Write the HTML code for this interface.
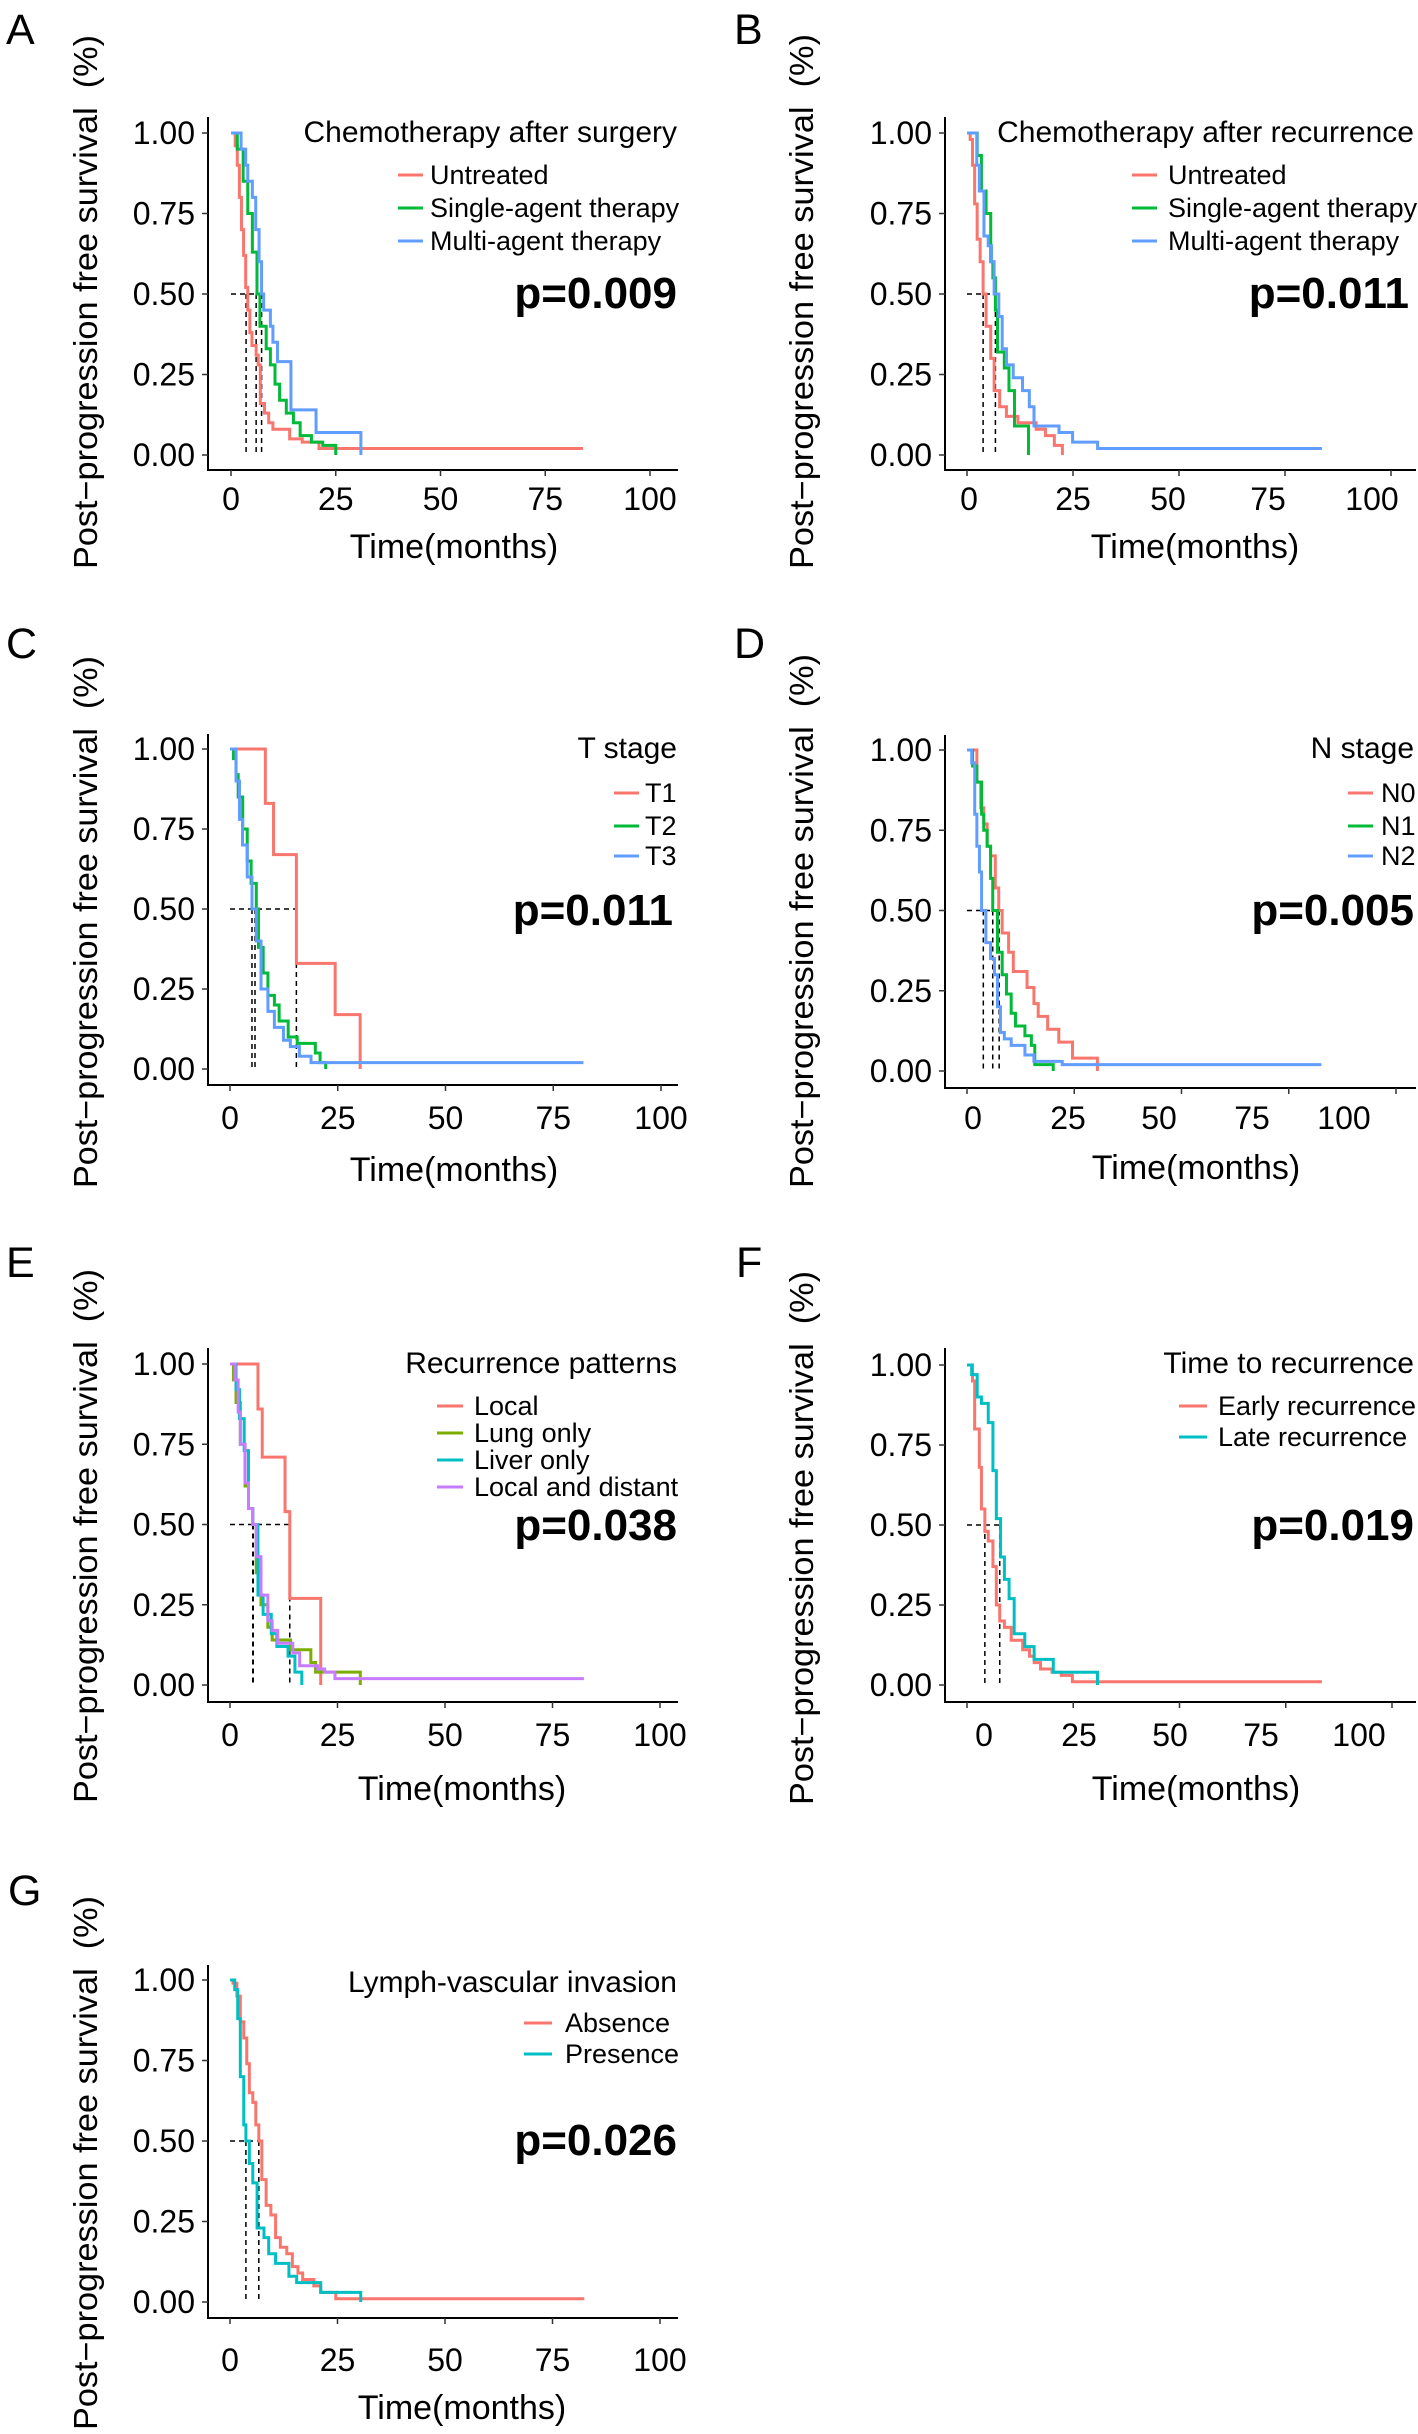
<!DOCTYPE html>
<html><head><meta charset="utf-8"><style>
html,body{margin:0;padding:0;background:#fff}
svg{display:block}
text{font-family:"Liberation Sans",Arial,sans-serif;fill:#000}
</style></head><body>
<svg id="fig" width="1418" height="2434" viewBox="0 0 1418 2434" xmlns="http://www.w3.org/2000/svg"></svg>
<script>
// ---- Data (months, survival probability) ----
const yTickValues=[0,0.25,0.5,0.75,1];
const yTickLabels=["0.00","0.25","0.50","0.75","1.00"];
const xTickValues=[0,25,50,75,100];
const xTickLabels=["0","25","50","75","100"];

// A
const aUntreatedT=[0,1,1.5,2,2.5,3,3.5,4,4.5,5,6,6.5,7,8,9,10,12,14,17,19,21,84];
const aUntreatedS=[1,0.96,0.9,0.8,0.7,0.62,0.52,0.45,0.38,0.34,0.31,0.28,0.16,0.13,0.1,0.08,0.08,0.05,0.04,0.04,0.02,0.02];
const aSingleT=[0,1.5,2.9,4,5.1,6.2,6.9,8.4,9.4,10.5,11.6,13.2,14.9,16.5,19.2,21.9,25];
const aSingleS=[1,0.95,0.85,0.75,0.63,0.5,0.4,0.33,0.28,0.22,0.17,0.13,0.1,0.06,0.04,0.03,0];
const aMultiT=[0,1.9,2.4,3.5,4,5.1,5.9,6.7,7.3,7.8,9.4,10,11.1,14.3,20.3,31];
const aMultiS=[1,1,0.95,0.9,0.85,0.8,0.7,0.6,0.5,0.45,0.4,0.35,0.29,0.14,0.07,0];
const aMedians=[3.6,6,7.3];
// B
const bUntreatedT=[0,0.75,1.3,1.8,2.4,3.1,3.8,4.5,5.6,6.4,7.7,9.3,12,16.3,18.5,20.6,22.5];
const bUntreatedS=[1,0.98,0.9,0.78,0.67,0.6,0.5,0.4,0.3,0.2,0.15,0.12,0.1,0.08,0.06,0.03,0];
const bSingleT=[0,1.7,2.4,3.4,4.5,5.6,6.1,6.7,7.2,8.8,9.9,11.2,14.5];
const bSingleS=[1,1,0.93,0.82,0.75,0.6,0.55,0.45,0.32,0.27,0.2,0.09,0];
const bMultiT=[0,1.2,2.3,2.9,4,5,5.8,6.4,7.5,8.3,9.3,10.9,13.1,14.7,15.8,21.7,24.9,30.8,83.7];
const bMultiS=[1,1,0.9,0.82,0.68,0.65,0.6,0.5,0.43,0.33,0.28,0.24,0.2,0.15,0.09,0.07,0.04,0.02,0.02];
const bMedians=[3.8,6.7];
// C
const cT1T=[0,8.2,10.1,15.4,24.4,30.2];
const cT1S=[1,0.83,0.67,0.33,0.17,0];
const cT2T=[0,0.8,1.4,1.9,2.95,4,4.9,6.1,6.6,7.7,8.8,10.3,11.4,13.5,15.6,19.8,20.9,22.2];
const cT2S=[1,0.97,0.92,0.85,0.75,0.65,0.58,0.5,0.38,0.3,0.23,0.2,0.15,0.1,0.08,0.05,0.02,0];
const cT3T=[0,1.4,2.2,2.9,4,5.1,6.1,7.2,8.8,10.3,12.4,14,16.1,18.8,82];
const cT3S=[1,0.9,0.78,0.7,0.6,0.5,0.4,0.25,0.18,0.13,0.09,0.07,0.04,0.02,0.02];
const cMedians=[5.1,5.8,15.4];
// D
const dN0T=[0,1.8,2.3,3.2,3.9,4.7,5.5,6.6,7.4,8.2,9.7,10.8,14,15.6,16.6,18.8,21.4,24.6,30.4];
const dN0S=[1,1,0.9,0.82,0.77,0.7,0.67,0.57,0.5,0.43,0.37,0.31,0.26,0.21,0.17,0.13,0.09,0.04,0];
const dN1T=[0,1.3,2.3,3.4,3.9,4.7,5.5,6,7.1,8.2,9.2,10.3,11.3,13.5,15,15.8,20.1];
const dN1S=[1,0.95,0.9,0.8,0.75,0.7,0.6,0.5,0.37,0.3,0.24,0.18,0.14,0.11,0.08,0.02,0];
const dN2T=[0,1.1,1.8,2.3,2.9,3.4,4.4,5.5,6.4,7.1,7.8,8.7,10.3,13.5,15.6,22.2,82.6];
const dN2S=[1,0.96,0.8,0.7,0.62,0.5,0.4,0.35,0.3,0.2,0.12,0.1,0.08,0.05,0.03,0.02,0.02];
const dMedians=[3.8,6,7.5];
// E
const eLocalT=[0,6.5,7.5,12.8,13.9,21.1];
const eLocalS=[1,0.86,0.71,0.54,0.27,0];
const eLungT=[0,0.8,1.4,2.4,3.5,4.3,5.3,6.1,7.2,8.8,9.8,14.1,18.8,19.9,30.3];
const eLungS=[1,0.95,0.88,0.75,0.62,0.55,0.5,0.35,0.25,0.18,0.14,0.11,0.07,0.04,0];
const eLiverT=[0,1.4,2.2,3.3,4.3,5.3,6.5,7.7,9.6,10.9,13.5,15.1,16.7];
const eLiverS=[1,0.92,0.83,0.73,0.55,0.5,0.28,0.22,0.16,0.12,0.09,0.04,0];
const eBothT=[0,1.2,1.9,2.4,3.5,4.3,5.3,6.1,7.2,8.8,9.8,11.1,14.6,16.2,20.4,22,24.4,82.3];
const eBothS=[1,0.95,0.85,0.75,0.63,0.55,0.5,0.4,0.28,0.2,0.17,0.13,0.1,0.06,0.05,0.04,0.02,0.02];
const eMedians=[5.3,5.4,13.9];
// F
const fEarlyT=[0,1.3,1.8,2.9,3.4,4.2,5,6.1,6.9,7.7,8.8,10.4,13.1,14.7,15.8,17.3,20,22.2,24.8,83.5];
const fEarlyS=[1,0.95,0.8,0.68,0.55,0.48,0.45,0.37,0.25,0.2,0.18,0.14,0.11,0.09,0.07,0.05,0.04,0.03,0.01,0.01];
const fLateT=[0,1.1,2.4,3.4,5,6.1,6.9,7.9,8.8,9.9,11.1,13.6,15.8,20.3,30.7];
const fLateS=[1,0.97,0.9,0.88,0.82,0.67,0.52,0.4,0.33,0.27,0.16,0.12,0.08,0.04,0];
const fMedians=[4.2,7.7];
// G
const gAbsenceT=[0,0.7,1.6,2.4,3.2,3.9,4.5,5.3,6,6.7,7.4,8.4,9.5,10.6,11.7,13.2,14.5,15.8,16.9,19.5,21.1,24.6,82.4];
const gAbsenceS=[1,0.99,0.95,0.87,0.82,0.74,0.65,0.62,0.55,0.5,0.38,0.3,0.27,0.2,0.17,0.15,0.11,0.09,0.07,0.05,0.03,0.01,0.01];
const gPresenceT=[0,1.1,1.8,2.4,3.2,3.7,4.5,5.3,6.3,7.9,9,10.6,13.7,15.5,21.1,30.4];
const gPresenceS=[1,0.97,0.88,0.7,0.55,0.5,0.43,0.37,0.23,0.2,0.15,0.12,0.08,0.06,0.03,0];
const gMedians=[3.7,6.7];

const RED="#F8766D",GRN="#00BA38",BLU="#619CFF",LGR="#7CAE00",CYN="#00BFC4",PUR="#C77CFF";
const NS="http://www.w3.org/2000/svg";
const svg=document.getElementById('fig');
function mk(tag,attrs,parent){const e=document.createElementNS(NS,tag);for(const k in attrs)e.setAttribute(k,attrs[k]);(parent||svg).appendChild(e);return e;}

const panels=[
 {id:"a",letter:"A",lx:6,ly:44,vx:208,top:117,axisY:470,right:678,y1:133,y0:455,x0:231,x100:650,labXs:null,labBase:510,tx:454,ty:558,ycx:86,yA:35,yB:569,
  title:"Chemotherapy after surgery",legR:677,legBl:142,legL1:398,legL2:423,legTx:430,legBls:[184,217,250],p:"p=0.009",pR:677,pBl:308,
  series:[["untreated","Untreated",aUntreatedT,aUntreatedS,RED],["single-agent","Single-agent therapy",aSingleT,aSingleS,GRN],["multi-agent","Multi-agent therapy",aMultiT,aMultiS,BLU]],med:aMedians},
 {id:"b",letter:"B",lx:734,ly:44,vx:945,top:117,axisY:470,right:1416,y1:133,y0:455,x0:967,x100:1391,labXs:[969,1073,1168,1268,1372],labBase:510,tx:1195,ty:558,ycx:802,yA:34,yB:569,
  title:"Chemotherapy after recurrence",legR:1414,legBl:142,legL1:1132,legL2:1157,legTx:1168,legBls:[184,217,250],p:"p=0.011",pR:1409,pBl:308,
  series:[["untreated","Untreated",bUntreatedT,bUntreatedS,RED],["single-agent","Single-agent therapy",bSingleT,bSingleS,GRN],["multi-agent","Multi-agent therapy",bMultiT,bMultiS,BLU]],med:bMedians},
 {id:"c",letter:"C",lx:6,ly:658,vx:208,top:734,axisY:1085,right:678,y1:749,y0:1069,x0:230,x100:661,labXs:null,labBase:1129,tx:454,ty:1181,ycx:86,yA:656,yB:1188,
  title:"T stage",legR:677,legBl:758,legL1:614,legL2:639,legTx:645,legBls:[802,835,865],p:"p=0.011",pR:673,pBl:925,
  series:[["t1","T1",cT1T,cT1S,RED],["t2","T2",cT2T,cT2S,GRN],["t3","T3",cT3T,cT3S,BLU]],med:cMedians},
 {id:"d",letter:"D",lx:734,ly:658,vx:945,top:735,axisY:1088,right:1416,y1:750,y0:1071,x0:967,x100:1396,labXs:[973,1068,1159,1252,1344],labBase:1129,tx:1196,ty:1179,ycx:802,yA:654,yB:1188,
  title:"N stage",legR:1414,legBl:758,legL1:1348,legL2:1373,legTx:1381,legBls:[802,835,865],p:"p=0.005",pR:1414,pBl:925,
  series:[["n0","N0",dN0T,dN0S,RED],["n1","N1",dN1T,dN1S,GRN],["n2","N2",dN2T,dN2S,BLU]],med:dMedians},
 {id:"e",letter:"E",lx:6,ly:1277,vx:208,top:1348,axisY:1702,right:678,y1:1364,y0:1685,x0:230,x100:660,labXs:null,labBase:1746,tx:462,ty:1800,ycx:86,yA:1269,yB:1803,
  title:"Recurrence patterns",legR:677,legBl:1373,legL1:437,legL2:463,legTx:474,legBls:[1415,1442,1469,1496],p:"p=0.038",pR:677,pBl:1540,
  series:[["local","Local",eLocalT,eLocalS,RED],["lung-only","Lung only",eLungT,eLungS,LGR],["liver-only","Liver only",eLiverT,eLiverS,CYN],["local-and-distant","Local and distant",eBothT,eBothS,PUR]],med:eMedians},
 {id:"f",letter:"F",lx:736,ly:1277,vx:945,top:1348,axisY:1702,right:1416,y1:1365,y0:1685,x0:967,x100:1392,labXs:[984,1079,1170,1261,1359],labBase:1746,tx:1196,ty:1800,ycx:802,yA:1271,yB:1805,
  title:"Time to recurrence",legR:1414,legBl:1373,legL1:1179,legL2:1207,legTx:1218,legBls:[1415,1446],p:"p=0.019",pR:1414,pBl:1540,
  series:[["early-recurrence","Early recurrence",fEarlyT,fEarlyS,RED],["late-recurrence","Late recurrence",fLateT,fLateS,CYN]],med:fMedians},
 {id:"g",letter:"G",lx:8,ly:1905,vx:208,top:1965,axisY:2318,right:678,y1:1980,y0:2302,x0:230,x100:660,labXs:null,labBase:2371,tx:462,ty:2419,ycx:86,yA:1896,yB:2430,
  title:"Lymph-vascular invasion",legR:677,legBl:1992,legL1:524,legL2:552,legTx:565,legBls:[2032,2063],p:"p=0.026",pR:677,pBl:2155,
  series:[["absence","Absence",gAbsenceT,gAbsenceS,RED],["presence","Presence",gPresenceT,gPresenceS,CYN]],med:gMedians}
];

panels.forEach(P=>{
  const g=mk('g',{});
  
  
  const X=t=>P.x0+(P.x100-P.x0)*t/100;
  const Y=s=>P.y0+(P.y1-P.y0)*s;
  const lt=mk('text',{x:P.lx,y:P.ly,'font-size':43},g);lt.textContent=P.letter;
  
  
  const yt=mk('text',{x:0,y:0,'font-size':33,'text-anchor':'middle',textLength:P.yB-P.yA,lengthAdjust:'spacingAndGlyphs',transform:`translate(${P.ycx+11},${(P.yA+P.yB)/2}) rotate(-90)`},g);
  yt.textContent="Post\u2212progression free survival\u00a0\u00a0(%)";
  
  
  const ax=mk('path',{d:`M${P.vx},${P.top}V${P.axisY}H${P.right}`,fill:'none',stroke:'#000','stroke-width':2},g);
  
  
  yTickValues.forEach((v,i)=>{
    mk('line',{x1:P.vx-6,x2:P.vx,y1:Y(v),y2:Y(v),stroke:'#333','stroke-width':1.5},g);
    const tl=mk('text',{x:P.vx-13,y:Y(v)+11,'font-size':32,'text-anchor':'end'},g);tl.textContent=yTickLabels[i];
    
    
  });
  xTickValues.forEach((v,i)=>{
    mk('line',{x1:X(v),x2:X(v),y1:P.axisY,y2:P.axisY+6,stroke:'#333','stroke-width':1.5},g);
    const lx=P.labXs?P.labXs[i]:X(v);
    const tl=mk('text',{x:lx,y:P.labBase,'font-size':32,'text-anchor':'middle'},g);tl.textContent=xTickLabels[i];
    
    
  });
  const xt=mk('text',{x:P.tx,y:P.ty,'font-size':34,'text-anchor':'middle'},g);xt.textContent="Time(months)";
  
  
  const mx=Math.max(...P.med);
  const mh=mk('line',{x1:X(0),x2:X(mx),y1:Y(0.5),y2:Y(0.5),stroke:'#000','stroke-width':1.5,'stroke-dasharray':'5,4'},g);
  
  
  P.med.forEach(m=>{
    const ml=mk('line',{x1:X(m),x2:X(m),y1:Y(0.5),y2:Y(0),stroke:'#000','stroke-width':1.5,'stroke-dasharray':'5,4'},g);
    
    
  });
  P.series.forEach(([sid,name,T,S,col])=>{
    let d=`M${X(T[0])},${Y(S[0])}`;
    for(let i=1;i<T.length;i++) d+=`H${X(T[i])}V${Y(S[i])}`;
    const p=mk('path',{d:d,fill:'none',stroke:col,'stroke-width':3},g);
    
    
  });
  const tt=mk('text',{x:P.legR,y:P.legBl,'font-size':30,'text-anchor':'end'},g);tt.textContent=P.title;
  
  
  P.series.forEach(([sid,name,T,S,col],i)=>{
    const bl=P.legBls[i];
    const le=mk('g',{},g);
    
    
    mk('line',{x1:P.legL1,x2:P.legL2,y1:bl-9,y2:bl-9,stroke:col,'stroke-width':3},le);
    const tx=mk('text',{x:P.legTx,y:bl,'font-size':27},le);tx.textContent=name;
  });
  const pv=mk('text',{x:P.pR,y:P.pBl,'font-size':44,'font-weight':'bold','text-anchor':'end'},g);pv.textContent=P.p;
  
  
});
</script>
</body></html>
